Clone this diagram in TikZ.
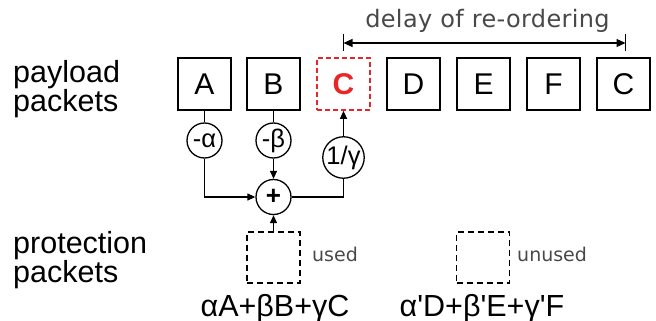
\documentclass[tikz,border=0pt]{standalone}
\usepackage{fontspec}
\setmainfont{Liberation Sans}
\newfontfamily\plainf{Liberation Sans}
\newfontfamily\dvfont{DejaVu Sans}
\newfontfamily\dvspaced[LetterSpace=1.5]{DejaVu Sans}
\usetikzlibrary{arrows.meta}
\definecolor{redc}{RGB}{232,38,38}
\definecolor{greyt}{RGB}{72,72,72}
\begin{document}
\begin{tikzpicture}[x=1pt,y=-1pt,
  pkt/.style={draw, line width=1.7pt, minimum width=53pt, minimum height=52pt, inner sep=0pt, font=\fontsize{30}{36}\selectfont},
  redpkt/.style={pkt, draw=redc, dashed, dash pattern=on 5pt off 3pt, text=redc, font=\fontsize{30}{36}\selectfont\bfseries},
  prot/.style={draw, line width=1.8pt, dash pattern=on 6pt off 4pt, minimum width=53pt, minimum height=51pt, inner sep=0pt},
  op/.style={draw, circle, line width=1.3pt, minimum size=35pt, inner sep=0pt, font=\plainf\fontsize{25.5}{28}\selectfont},
  conn/.style={line width=1.2pt},
  tip/.style={-{Triangle[length=8pt,width=7pt]}},
  lab/.style={inner sep=0pt, font=\fontsize{30.5}{34}\selectfont},
  note/.style={inner sep=0pt, text=greyt, font=\dvfont\fontsize{19}{22}\selectfont},
  formula/.style={inner sep=0pt, font=\plainf\fontsize{30.5}{34}\selectfont}
]
\useasboundingbox (0,0) rectangle (656,321);

% labels
\node[lab, anchor=base west] (pl1) at (13,82) {payload};
\node[lab, anchor=base west] (pl2) at (13,111.5) {packets};
\node[lab, anchor=base west] (pr1) at (13,253) {protection};
\node[lab, anchor=base west] (pr2) at (13,282) {packets};

% payload packets
\node[pkt] (A) at (204.5,84) {A};
\node[pkt] (B) at (273.5,84) {B};
\node[redpkt] (Cr) at (343.5,84) {C};
\node[pkt] (D) at (413.5,84) {D};
\node[pkt] (E) at (483.5,84) {E};
\node[pkt] (F) at (553.5,84) {F};
\node[pkt] (C2) at (623.5,84) {C};

% operators
\node[op] (alpha) at (204.5,140.5) {-α};
\node[op] (beta) at (273.5,140.5) {-β};
\node[op, font=\plainf\bfseries\fontsize{26}{30}\selectfont] (plus) at (273.5,197) {+};
\node[op] (gamma) at (343.5,157.5) {1/γ};

% protection packets
\node[prot] (used) at (273.5,257.5) {};
\node[prot] (unused) at (483,257.5) {};
\node[note, anchor=base west] (usedl) at (312,261) {used};
\node[note, anchor=base west] (unusedl) at (517,261) {unused};

\node[formula, anchor=base] (f1) at (275,316) {αA+βB+γC};
\node[formula, anchor=base] (f2) at (482,316) {α'D+β'E+γ'F};

% connectors
\draw[conn] (A) -- (alpha);
\draw[conn] (B) -- (beta);
\draw[conn, tip] (alpha) |- (plus);
\draw[conn, tip] (beta) -- (plus);
\draw[conn] (plus) -| (gamma);
\draw[conn, tip] (gamma) -- (Cr);
\draw[conn, tip] (used) -- (plus);

% delay of re-ordering
\coordinate (dl) at (343.5,43);
\coordinate (dr) at (625.5,43);
\draw[conn, {Triangle[length=9pt,width=8pt]}-{Triangle[length=9pt,width=8pt]}] (dl) -- (dr);
\draw[conn] ([yshift=8.5pt]dl) -- ([yshift=-8.5pt]dl);
\draw[conn] ([yshift=8.5pt]dr) -- ([yshift=-8.5pt]dr);
\node[inner sep=0pt, anchor=base, text=greyt, font=\dvspaced\fontsize{24}{27}\selectfont] (delay) at (487.5,28) {delay of re-ordering};
\end{tikzpicture}
\end{document}
